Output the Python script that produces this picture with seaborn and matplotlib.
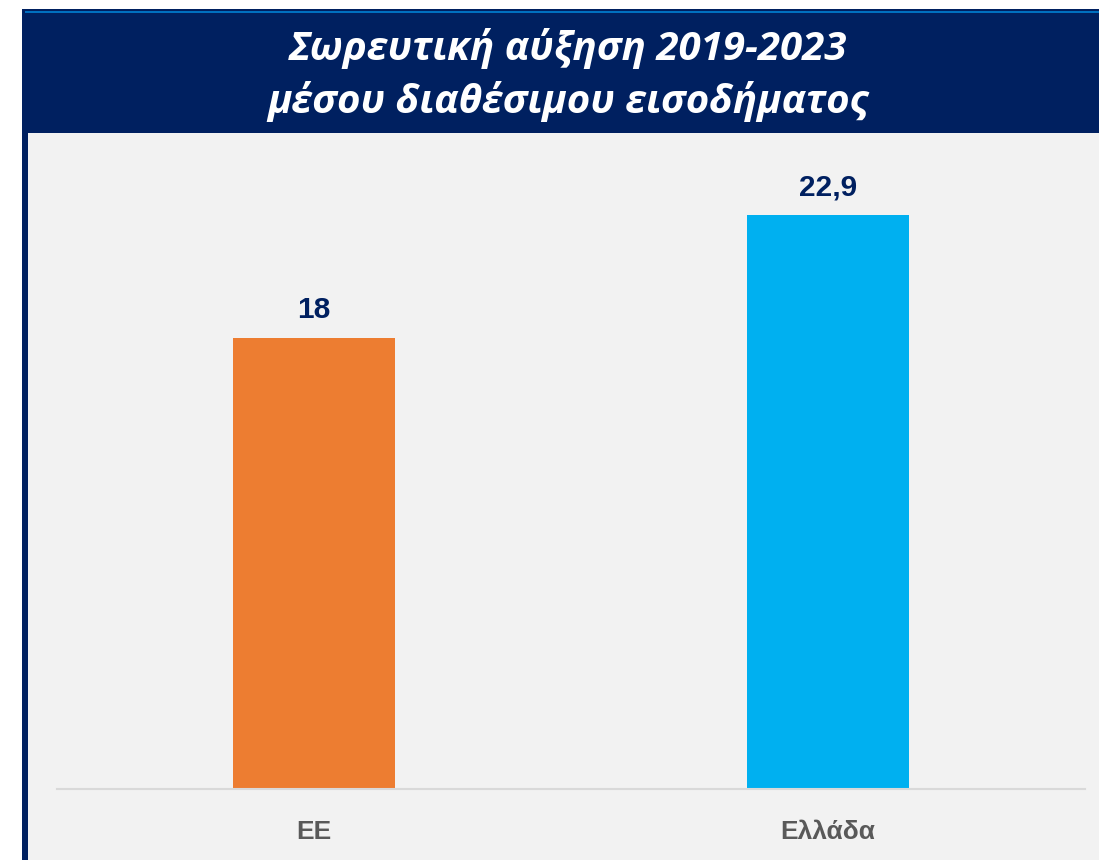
import seaborn as sns
import matplotlib.pyplot as plt
import matplotlib
from matplotlib.patches import Rectangle

# data
categories = ['ΕΕ', 'Ελλάδα']
values = [18, 22.9]
bar_colors = ['#ED7D31', '#00B0F0']
title = 'Σωρευτική αύξηση 2019-2023\nμέσου διαθέσιμου εισοδήματος'

W, H = 1099, 860
navy = '#002060'

sns.set_style('white')
plt.rcParams['font.family'] = ['Liberation Sans', 'DejaVu Sans']

fig = plt.figure(figsize=(W / 100, H / 100), dpi=100, facecolor='white')


def px_rect(x0, y0, x1, y1, color):
    # pixel coords measured from top-left
    r = Rectangle((x0 / W, 1 - y1 / H), (x1 - x0) / W, (y1 - y0) / H,
                  transform=fig.transFigure, facecolor=color, edgecolor='none', zorder=0)
    fig.add_artist(r)


px_rect(22, 9, W, H, '#F2F2F2')      # panel background
px_rect(22, 9, W, 133, navy)          # title band
px_rect(22, 9, 28, H, navy)           # left border
px_rect(25, 11, W, 13, '#0070C0')     # thin blue line

ax = fig.add_axes([57 / W, (H - 789) / H, (1085 - 57) / W, (789 - 133) / H])
ax.set_facecolor('none')

sns.barplot(x=categories, y=values, hue=categories, palette=bar_colors,
            width=0.316, legend=False, saturation=1, linewidth=0, ax=ax)

ax.set_xlim(-0.5, 1.5)
ax.set_ylim(0, 26.17)
for c in ax.containers:
    ax.bar_label(c, labels=[f'{v:g}'.replace('.', ',') for v in c.datavalues],
                 padding=10, fontsize=21.5, fontweight='bold', color=navy)

for s in ['top', 'left', 'right']:
    ax.spines[s].set_visible(False)
ax.spines['bottom'].set_color('#D9D9D9')
ax.spines['bottom'].set_linewidth(1.5)
ax.set_yticks([])
ax.tick_params(axis='x', length=0, pad=22, labelsize=19, labelcolor='#595959')
for t in ax.get_xticklabels():
    t.set_fontweight('bold')
ax.set_xlabel('')
ax.set_ylabel('')

fig.text(568 / W, 1 - 75 / H, title, ha='center', va='center', color='white',
         fontsize=29, fontweight='bold', fontstyle='italic',
         family=['Open Sans', 'DejaVu Sans'], linespacing=1.35)

fig.savefig('out.png', dpi=100, facecolor='white')
